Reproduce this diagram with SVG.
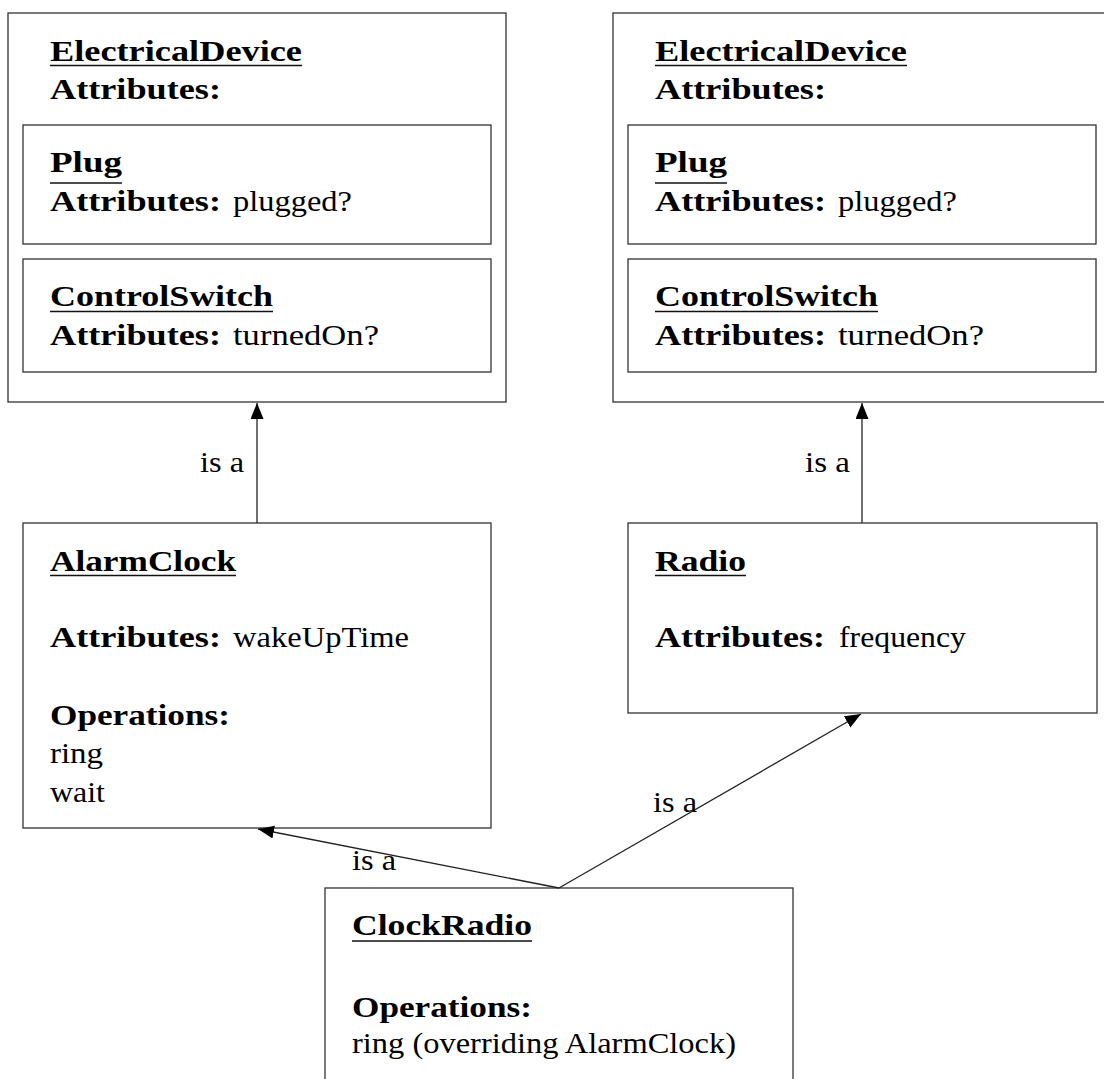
<svg xmlns="http://www.w3.org/2000/svg" width="1104" height="1079" viewBox="0 0 1104 1079">
<defs>
<style>
.box{fill:#fff;stroke:#333;stroke-width:1.3}
.ul{stroke:#111;stroke-width:1.5}
text{font-family:"Liberation Serif","DejaVu Serif",serif;font-size:29px;fill:#000}
.b{font-weight:bold}
.edge{stroke:#222;stroke-width:1.3;fill:none}
</style>
<marker id="arr" markerUnits="userSpaceOnUse" markerWidth="17" markerHeight="14" refX="16" refY="6.5" orient="auto">
<path d="M0,0 L16,6.5 L0,13 z" fill="#000"/>
</marker>
</defs>
<rect width="1104" height="1079" fill="#fff"/>

<g id="ed-left">
<rect class="box" x="8" y="13" width="498" height="389"/>
<text class="b" x="50" y="61" textLength="252" lengthAdjust="spacingAndGlyphs">ElectricalDevice</text>
<line class="ul" x1="50" y1="65.5" x2="302" y2="65.5"/>
<text class="b" x="50" y="99" textLength="171" lengthAdjust="spacingAndGlyphs">Attributes:</text>
<g id="plug-left">
<rect class="box" x="23" y="125" width="468" height="119"/>
<text class="b" x="50" y="172" textLength="72" lengthAdjust="spacingAndGlyphs">Plug</text>
<line class="ul" x1="50" y1="183" x2="122" y2="183"/>
<text class="b" x="50" y="211" textLength="171" lengthAdjust="spacingAndGlyphs">Attributes:</text>
<text x="233" y="211" textLength="119" lengthAdjust="spacingAndGlyphs">plugged?</text>
</g>
<g id="switch-left">
<rect class="box" x="23" y="259" width="468" height="113"/>
<text class="b" x="50" y="306" textLength="223" lengthAdjust="spacingAndGlyphs">ControlSwitch</text>
<line class="ul" x1="50" y1="311.5" x2="273" y2="311.5"/>
<text class="b" x="50" y="345" textLength="171" lengthAdjust="spacingAndGlyphs">Attributes:</text>
<text x="233" y="345" textLength="146" lengthAdjust="spacingAndGlyphs">turnedOn?</text>
</g>
</g>

<g id="ed-right">
<rect class="box" x="613" y="13" width="498" height="389"/>
<text class="b" x="655" y="61" textLength="252" lengthAdjust="spacingAndGlyphs">ElectricalDevice</text>
<line class="ul" x1="655" y1="65.5" x2="907" y2="65.5"/>
<text class="b" x="655" y="99" textLength="171" lengthAdjust="spacingAndGlyphs">Attributes:</text>
<g id="plug-right">
<rect class="box" x="628" y="125" width="468" height="119"/>
<text class="b" x="655" y="172" textLength="72" lengthAdjust="spacingAndGlyphs">Plug</text>
<line class="ul" x1="655" y1="183" x2="727" y2="183"/>
<text class="b" x="655" y="211" textLength="171" lengthAdjust="spacingAndGlyphs">Attributes:</text>
<text x="838" y="211" textLength="119" lengthAdjust="spacingAndGlyphs">plugged?</text>
</g>
<g id="switch-right">
<rect class="box" x="628" y="259" width="468" height="113"/>
<text class="b" x="655" y="306" textLength="223" lengthAdjust="spacingAndGlyphs">ControlSwitch</text>
<line class="ul" x1="655" y1="311.5" x2="878" y2="311.5"/>
<text class="b" x="655" y="345" textLength="171" lengthAdjust="spacingAndGlyphs">Attributes:</text>
<text x="838" y="345" textLength="146" lengthAdjust="spacingAndGlyphs">turnedOn?</text>
</g>
</g>

<g id="alarmclock">
<rect class="box" x="23" y="523" width="468" height="305"/>
<text class="b" x="50" y="571" textLength="186" lengthAdjust="spacingAndGlyphs">AlarmClock</text>
<line class="ul" x1="50" y1="575.5" x2="236" y2="575.5"/>
<text class="b" x="50" y="647" textLength="171" lengthAdjust="spacingAndGlyphs">Attributes:</text>
<text x="233" y="647" textLength="176" lengthAdjust="spacingAndGlyphs">wakeUpTime</text>
<text class="b" x="50" y="725" textLength="180" lengthAdjust="spacingAndGlyphs">Operations:</text>
<text x="50" y="763" textLength="53" lengthAdjust="spacingAndGlyphs">ring</text>
<text x="50" y="802" textLength="55" lengthAdjust="spacingAndGlyphs">wait</text>
</g>

<g id="radio">
<rect class="box" x="628" y="523" width="469" height="190"/>
<text class="b" x="655" y="571" textLength="91" lengthAdjust="spacingAndGlyphs">Radio</text>
<line class="ul" x1="655" y1="575.5" x2="746" y2="575.5"/>
<text class="b" x="655" y="647" textLength="170" lengthAdjust="spacingAndGlyphs">Attributes:</text>
<text x="839" y="647" textLength="127" lengthAdjust="spacingAndGlyphs">frequency</text>
</g>

<g id="clockradio">
<rect class="box" x="325" y="888" width="468" height="200"/>
<text class="b" x="352" y="935" textLength="180" lengthAdjust="spacingAndGlyphs">ClockRadio</text>
<line class="ul" x1="352" y1="941" x2="532" y2="941"/>
<text class="b" x="352" y="1017" textLength="180" lengthAdjust="spacingAndGlyphs">Operations:</text>
<text x="352" y="1053" textLength="384" lengthAdjust="spacingAndGlyphs">ring (overriding AlarmClock)</text>
</g>

<g id="connectors">
<line class="edge" x1="257" y1="523" x2="257" y2="403" marker-end="url(#arr)"/>
<line class="edge" x1="862" y1="523" x2="862" y2="403" marker-end="url(#arr)"/>
<line class="edge" x1="559" y1="888" x2="258" y2="829" marker-end="url(#arr)"/>
<line class="edge" x1="559" y1="888" x2="861" y2="714" marker-end="url(#arr)"/>
<text x="200" y="472" textLength="44" lengthAdjust="spacingAndGlyphs">is a</text>
<text x="805" y="472" textLength="45" lengthAdjust="spacingAndGlyphs">is a</text>
<text x="352" y="870" textLength="44" lengthAdjust="spacingAndGlyphs">is a</text>
<text x="653" y="812" textLength="44" lengthAdjust="spacingAndGlyphs">is a</text>
</g>
</svg>
